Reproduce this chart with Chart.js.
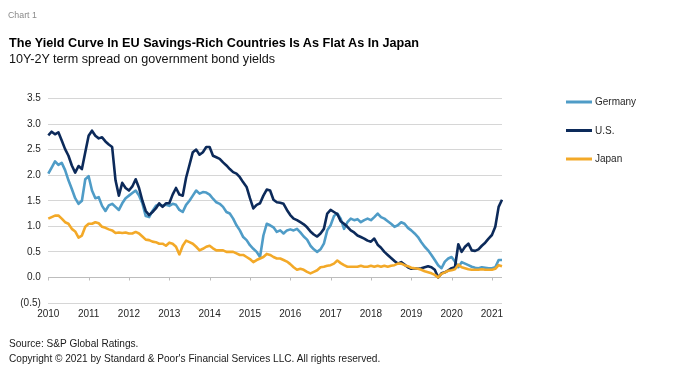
<!DOCTYPE html>
<html>
<head>
<meta charset="utf-8">
<script src="https://cdn.jsdelivr.net/npm/chart.js@4.4.1/dist/chart.umd.min.js"></script>
<style>
  html, body { margin: 0; padding: 0; background: #fff; }
  body { width: 692px; height: 380px; position: relative; overflow: hidden; font-family: "Liberation Sans", Arial, sans-serif; }
  canvas { position: absolute; left: 0; top: 0; }
  .t { position: absolute; white-space: nowrap; line-height: 1; }
  #kicker { left: 8px; top: 11px; font-size: 8.8px; color: #8a8a8a; }
  #title { left: 9px; top: 37px; font-size: 12.65px; font-weight: bold; color: #000; }
  #subtitle { left: 9px; top: 52.5px; font-size: 12.6px; color: #111; }
  #source { left: 9px; top: 338.5px; font-size: 10.1px; color: #1a1a1a; }
  #copy { left: 9px; top: 354px; font-size: 10.1px; color: #1a1a1a; }
</style>
</head>
<body>
<canvas id="c" width="692" height="380"></canvas>
<div class="t" id="kicker">Chart 1</div>
<div class="t" id="title">The Yield Curve In EU Savings-Rich Countries Is As Flat As In Japan</div>
<div class="t" id="subtitle">10Y-2Y term spread on government bond yields</div>
<div class="t" id="source">Source: S&amp;P Global Ratings.</div>
<div class="t" id="copy">Copyright © 2021 by Standard &amp; Poor's Financial Services LLC. All rights reserved.</div>
<script>
// ---- Data (monthly readings, Jan 2010 – Apr 2021) ----
const yearLabels = ['2010','2011','2012','2013','2014','2015','2016','2017','2018','2019','2020','2021'];
const monthCodes = ['01','02','03','04','05','06','07','08','09','10','11','12'];

const germany = [
  2.03, 2.15, 2.27, 2.20, 2.24, 2.10, 1.90, 1.73, 1.55, 1.44, 1.50, 1.92,
  1.98, 1.70, 1.55, 1.57, 1.40, 1.30, 1.41, 1.44, 1.38, 1.32, 1.45, 1.55,
  1.60, 1.65, 1.70, 1.60, 1.45, 1.20, 1.18, 1.30, 1.40, 1.42, 1.40, 1.42,
  1.40, 1.44, 1.42, 1.32, 1.28, 1.42, 1.50, 1.60, 1.70, 1.64, 1.67, 1.66,
  1.62, 1.54, 1.47, 1.44, 1.38, 1.28, 1.25, 1.15, 1.02, 0.92, 0.79, 0.73,
  0.63, 0.56, 0.50, 0.40, 0.82, 1.05, 1.02, 0.98, 0.89, 0.92, 0.86, 0.92,
  0.94, 0.92, 0.95, 0.88, 0.80, 0.74, 0.62, 0.55, 0.50, 0.55, 0.66, 0.92,
  1.02, 1.20, 1.25, 1.15, 0.95, 1.08, 1.15, 1.12, 1.14, 1.08, 1.12, 1.15,
  1.12, 1.18, 1.25, 1.18, 1.15, 1.10, 1.05, 0.99, 1.02, 1.08, 1.05, 0.97,
  0.92, 0.86, 0.79, 0.69, 0.60, 0.53, 0.44, 0.34, 0.24, 0.18, 0.31, 0.37,
  0.40, 0.31, 0.20, 0.30, 0.27, 0.24, 0.21, 0.19, 0.18, 0.20, 0.19, 0.18,
  0.18, 0.20, 0.34, 0.34
];
const us = [
  2.78, 2.85, 2.80, 2.84, 2.68, 2.51, 2.38, 2.19, 2.05, 2.18, 2.12, 2.45,
  2.77, 2.87, 2.77, 2.72, 2.74, 2.66, 2.60, 2.55, 1.90, 1.60, 1.85, 1.75,
  1.70, 1.78, 1.92, 1.75, 1.50, 1.30, 1.22, 1.28, 1.35, 1.45, 1.38, 1.45,
  1.45, 1.62, 1.75, 1.62, 1.60, 1.95, 2.20, 2.45, 2.50, 2.40, 2.45, 2.55,
  2.55, 2.38, 2.35, 2.32, 2.25, 2.19, 2.12, 2.06, 2.03, 1.96, 1.86, 1.77,
  1.55, 1.35, 1.42, 1.45, 1.60, 1.72, 1.70, 1.52, 1.47, 1.46, 1.44, 1.32,
  1.22, 1.15, 1.12, 1.08, 1.04, 0.98, 0.90, 0.84, 0.80, 0.86, 0.95, 1.25,
  1.32, 1.28, 1.24, 1.10, 1.05, 0.99, 0.92, 0.88, 0.82, 0.79, 0.76, 0.72,
  0.70, 0.76, 0.64, 0.58, 0.50, 0.44, 0.38, 0.32, 0.27, 0.30, 0.25, 0.20,
  0.17, 0.18, 0.17, 0.18, 0.20, 0.22, 0.20, 0.15, 0.00, 0.08, 0.10, 0.14,
  0.18, 0.20, 0.65, 0.50, 0.60, 0.66, 0.53, 0.52, 0.55, 0.62, 0.68, 0.76,
  0.83, 0.99, 1.38, 1.52
];
const japan = [
  1.15, 1.18, 1.21, 1.21, 1.15, 1.08, 1.05, 0.95, 0.90, 0.78, 0.82, 0.99,
  1.05, 1.05, 1.08, 1.06, 0.99, 0.97, 0.94, 0.92, 0.87, 0.88, 0.87, 0.88,
  0.86, 0.86, 0.89, 0.86, 0.80, 0.74, 0.73, 0.70, 0.69, 0.66, 0.66, 0.62,
  0.68, 0.66, 0.60, 0.45, 0.62, 0.72, 0.69, 0.66, 0.60, 0.53, 0.56, 0.60,
  0.62, 0.57, 0.53, 0.53, 0.53, 0.50, 0.50, 0.50, 0.47, 0.44, 0.44, 0.40,
  0.36, 0.30, 0.34, 0.37, 0.40, 0.46, 0.44, 0.40, 0.37, 0.37, 0.34, 0.31,
  0.26, 0.20, 0.15, 0.17, 0.15, 0.11, 0.08, 0.11, 0.14, 0.20, 0.21, 0.23,
  0.24, 0.27, 0.33, 0.28, 0.24, 0.21, 0.21, 0.21, 0.21, 0.23, 0.21, 0.21,
  0.23, 0.21, 0.23, 0.21, 0.23, 0.21, 0.23, 0.24, 0.27, 0.27, 0.24, 0.22,
  0.19, 0.18, 0.17, 0.15, 0.12, 0.10, 0.08, 0.05, 0.00, 0.07, 0.10, 0.13,
  0.14, 0.16, 0.25, 0.20, 0.18, 0.16, 0.15, 0.15, 0.15, 0.16, 0.15, 0.15,
  0.15, 0.17, 0.24, 0.22
];
const seriesNames = ['Germany', 'U.S.', 'Japan'];
const yTickMin = -0.5, yTickMax = 3.5, yTickStep = 0.5;

const categories = yearLabels.flatMap(y => monthCodes.map(m => y + '-' + m)).slice(0, germany.length);

// ---- Styles ----
const FONT = '"Liberation Sans", Arial, sans-serif';
const colors = ['#4f9cc7', '#0c2a5a', '#f3a928'];
const GRID = '#d6d6d6';
const ZERO = '#bdbdbd';

const zeroTicks = {
  id: 'zeroTicks',
  beforeDatasetsDraw(chart) {
    const ctx = chart.ctx, xs = chart.scales.x, ys = chart.scales.y;
    const y0 = Math.round(ys.getPixelForValue(0)) + 0.5;
    ctx.save();
    ctx.strokeStyle = ZERO; ctx.lineWidth = 1;
    categories.forEach((c, i) => {
      if (!c.endsWith('-01')) return;
      const x = Math.round(xs.getPixelForValue(i)) + 0.5;
      ctx.beginPath(); ctx.moveTo(x, y0); ctx.lineTo(x, y0 + 3); ctx.stroke();
    });
    ctx.restore();
  }
};

const sideLegend = {
  id: 'sideLegend',
  afterDraw(chart) {
    const ctx = chart.ctx;
    const x0 = chart.chartArea.right + 64, ys = [102, 130.5, 159];
    ctx.save();
    ctx.font = '10px ' + FONT;
    ctx.textBaseline = 'middle';
    chart.data.datasets.forEach((ds, i) => {
      ctx.strokeStyle = ds.borderColor; ctx.lineWidth = 3;
      ctx.beginPath(); ctx.moveTo(x0, ys[i]); ctx.lineTo(x0 + 26, ys[i]); ctx.stroke();
      ctx.fillStyle = '#262626';
      ctx.fillText(ds.label, x0 + 29, ys[i] + 0.5);
    });
    ctx.restore();
  }
};

const fmt = v => {
  const s = Math.abs(v).toFixed(1);
  return v < 0 ? '(' + s + ')' : s;
};

new Chart(document.getElementById('c'), {
  type: 'line',
  data: {
    labels: categories,
    datasets: [
      { label: seriesNames[0], data: germany, borderColor: colors[0], order: 3 },
      { label: seriesNames[1], data: us, borderColor: colors[1], order: 2 },
      { label: seriesNames[2], data: japan, borderColor: colors[2], order: 1 }
    ].map(d => Object.assign(d, { borderWidth: 2.6, pointRadius: 0, tension: 0, fill: false, borderJoinStyle: 'round' }))
  },
  options: {
    responsive: false,
    animation: false,
    devicePixelRatio: 1,
    layout: { padding: { left: 0, top: 98.5, right: 190, bottom: 57 } },
    plugins: { legend: { display: false }, tooltip: { enabled: false }, title: { display: false } },
    scales: {
      x: {
        type: 'category',
        offset: false,
        grid: { display: false, drawTicks: false },
        border: { display: false },
        ticks: {
          autoSkip: false, maxRotation: 0, minRotation: 0, padding: 5,
          color: '#262626', font: { family: FONT, size: 10 },
          callback: (v, i) => categories[i].endsWith('-01') ? categories[i].slice(0, 4) : null
        },
        afterFit: s => { s.height = 20; }
      },
      y: {
        min: yTickMin, max: yTickMax,
        grid: { color: c => (c.tick && c.tick.value === 0) ? ZERO : GRID, drawTicks: false, lineWidth: 1 },
        border: { display: false },
        ticks: { stepSize: yTickStep, padding: 7.5, color: '#262626', font: { family: FONT, size: 10 }, callback: v => fmt(v) },
        afterFit: s => { s.width = 48.3; }
      }
    }
  },
  plugins: [zeroTicks, sideLegend]
});
</script>
</body>
</html>
